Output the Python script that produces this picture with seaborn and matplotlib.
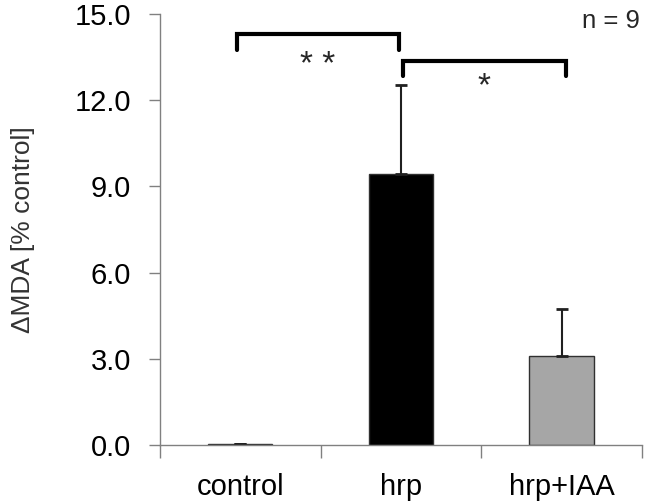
import matplotlib
matplotlib.use("Agg")
import matplotlib.pyplot as plt
import seaborn as sns
import pandas as pd

# values
groups = ["control", "hrp", "hrp+IAA"]
means = [0.03, 9.43, 3.1]
sem_up = [0.0, 3.1, 1.65]
colors = ["white", "black", "#a6a6a6"]

sns.set_style("white")
plt.rcParams["font.family"] = ["Liberation Sans", "DejaVu Sans"]

df = pd.DataFrame({"group": groups, "value": means})

fig = plt.figure(figsize=(6.51, 5.04), dpi=100)
ax = fig.add_axes([0.2458, 0.117, 0.7402, 0.855])

sns.barplot(data=df, x="group", y="value", hue="group", palette=colors,
            width=0.4, errorbar=None, legend=False, ax=ax,
            edgecolor="#303030", linewidth=1.0)

# upper error bars only
ax.errorbar(range(len(groups)), means, yerr=[[0] * 3, sem_up], fmt="none",
            ecolor="#202020", elinewidth=1.5, capsize=4, capthick=2)

ax.set_xlim(-0.5, 2.5)
ax.set_ylim(0, 15)
ax.set_yticks([0, 3, 6, 9, 12, 15])
ax.set_yticklabels(["0.0", "3.0", "6.0", "9.0", "12.0", "15.0"])
ax.set_xticks([-0.5, 0.5, 1.5, 2.5], minor=True)
ax.tick_params(axis="x", which="major", length=0, labelsize=21, pad=20,
               labelcolor="black")
ax.tick_params(axis="x", which="minor", length=9, width=1, color="#808080",
               direction="out", bottom=True)
ax.tick_params(axis="y", length=8, width=1, color="#808080", direction="out",
               left=True, labelsize=21, pad=13, labelcolor="black")
ax.set_xlabel("")
ax.set_ylabel("ΔMDA [% control]", fontsize=19, color="#333333", labelpad=28)

for s in ["top", "right"]:
    ax.spines[s].set_visible(False)
for s in ["left", "bottom"]:
    ax.spines[s].set_color("#808080")
    ax.spines[s].set_linewidth(1)

# significance brackets
ax.plot([-0.02, -0.02, 0.99, 0.99], [13.75, 14.3, 14.3, 13.75],
        color="black", lw=3, solid_joinstyle="miter", clip_on=False)
ax.text(0.48, 13.33, "* *", ha="center", va="center_baseline", fontsize=24)
ax.plot([1.01, 1.01, 2.03, 2.03], [12.85, 13.38, 13.38, 12.85],
        color="black", lw=3, solid_joinstyle="miter", clip_on=False)
ax.text(1.52, 12.6, "*", ha="center", va="center_baseline", fontsize=24)

ax.text(2.49, 14.75, "n = 9", ha="right", va="center", fontsize=18.5)

fig.savefig("out.png", dpi=100)
